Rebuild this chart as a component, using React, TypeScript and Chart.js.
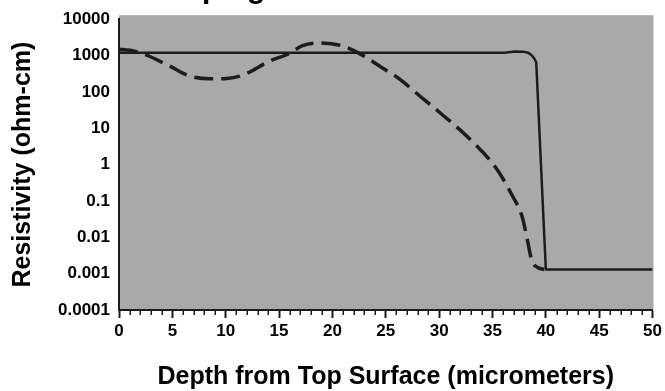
import React, { useEffect, useRef } from "react";
import { Chart, registerables } from "chart.js";

Chart.register(...registerables);

const TITLE_TEXT = "Doping Profile";
const X_TITLE = "Depth from Top Surface (micrometers)";
const Y_TITLE = "Resistivity (ohm-cm)";

const Y_TICK_VALUES = [0.0001, 0.001, 0.01, 0.1, 1, 10, 100, 1000, 10000];
const Y_TICK_LABELS = ["0.0001", "0.001", "0.01", "0.1", "1", "10", "100", "1000", "10000"];

const SOLID_X = [0, 36.1, 37.1, 37.9, 38.4, 38.7, 38.95, 39.1, 40.0, 50];
const SOLID_Y = [1200, 1200, 1300, 1280, 1180, 1000, 800, 650, 0.0013, 0.0013];

const DASH_X = [0, 1, 2.3, 4.75, 6.6, 8.5, 10.1, 11.6, 14.1, 16.0, 17.2, 18.8, 20.7, 22.5, 24.7, 26.3, 28.1, 30.0, 32.8, 35.3, 36.8, 37.8, 38.3, 38.7, 39.2, 39.85];
const DASH_Y = [1500, 1400, 1100, 515, 275, 230, 235, 290, 700, 1150, 1880, 2230, 1920, 1150, 455, 225, 81, 28, 5.3, 0.83, 0.15, 0.035, 0.0076, 0.0022, 0.0015, 0.0013];

const FONT = "'Liberation Sans', Arial, Helvetica, sans-serif";
const INK = "#1c1c1c";
const PLOT_BG = "#a9a9a9";

const bgPlugin = {
  id: "plotBg",
  beforeDraw(chart: any) {
    const { ctx, chartArea } = chart;
    ctx.save();
    ctx.fillStyle = PLOT_BG;
    ctx.fillRect(chartArea.left, chartArea.top - 4, chartArea.right - chartArea.left + 1, chartArea.bottom - chartArea.top + 4);
    ctx.restore();
  },
};

const extrasPlugin = {
  id: "extras",
  afterDraw(chart: any) {
    const { ctx, chartArea } = chart;
    const xs = chart.scales.x;
    ctx.save();
    ctx.strokeStyle = INK;
    ctx.lineWidth = 1.5;
    for (let v = 0; v <= 50; v++) {
      if (v % 5 === 0) continue;
      const px = Math.round(xs.getPixelForValue(v)) + 0.25;
      ctx.beginPath();
      ctx.moveTo(px, chartArea.bottom);
      ctx.lineTo(px, chartArea.bottom + 5);
      ctx.stroke();
    }
    ctx.fillStyle = "#000";
    ctx.font = `bold 25px ${FONT}`;
    ctx.textAlign = "center";
    ctx.textBaseline = "middle";
    ctx.fillText(X_TITLE, (chartArea.left + chartArea.right) / 2, 377);
    ctx.font = `bold 30px ${FONT}`;
    ctx.textAlign = "left";
    ctx.textBaseline = "alphabetic";
    ctx.fillText(TITLE_TEXT, 162, -2);
    ctx.restore();
  },
};

export default function App() {
  const ref = useRef<HTMLCanvasElement | null>(null);

  useEffect(() => {
    document.body.style.margin = "0";
    const canvas = ref.current;
    if (!canvas) return;
    const solid = SOLID_X.map((x, i) => ({ x, y: SOLID_Y[i] }));
    const dashed = DASH_X.map((x, i) => ({ x, y: DASH_Y[i] }));
    const chart = new Chart(canvas, {
      type: "line",
      data: {
        datasets: [
          {
            label: "solid",
            data: solid,
            borderColor: INK,
            borderWidth: 2.5,
            pointRadius: 0,
            tension: 0,
            fill: false,
          },
          {
            label: "dashed",
            data: dashed,
            borderColor: INK,
            borderWidth: 3.5,
            borderDash: [19, 8],
            pointRadius: 0,
            cubicInterpolationMode: "monotone",
            fill: false,
          },
        ],
      },
      plugins: [bgPlugin, extrasPlugin],
      options: {
        animation: false,
        responsive: false,
        devicePixelRatio: 1,
        layout: { padding: { top: 15, right: 11, left: 0, bottom: 0 } },
        plugins: { legend: { display: false }, tooltip: { enabled: false }, title: { display: false } },
        scales: {
          x: {
            type: "linear",
            min: 0,
            max: 50,
            afterFit: (s: any) => { s.height = 81; },
            border: { display: true, color: INK, width: 2 },
            grid: { display: true, drawOnChartArea: false, drawTicks: true, tickLength: 8, color: INK, tickColor: INK, tickWidth: 2 },
            ticks: { stepSize: 5, padding: 3, color: "#000", font: { family: FONT, size: 17, weight: "bold" }, maxRotation: 0, autoSkip: false },
          },
          y: {
            type: "logarithmic",
            min: 0.0001,
            max: 10000,
            afterFit: (s: any) => { s.width = 119; },
            afterBuildTicks: (s: any) => { s.ticks = Y_TICK_VALUES.map((v) => ({ value: v })); },
            border: { display: true, color: INK, width: 2 },
            grid: { display: true, drawOnChartArea: false, drawTicks: false },
            ticks: {
              padding: 9,
              color: "#000",
              font: { family: FONT, size: 17, weight: "bold" },
              callback: (v: any) => {
                const i = Y_TICK_VALUES.findIndex((t) => Math.abs(Math.log10(t) - Math.log10(Number(v))) < 1e-6);
                return i >= 0 ? Y_TICK_LABELS[i] : "";
              },
            },
            title: { display: true, text: Y_TITLE, color: "#000", font: { family: FONT, size: 25, weight: "bold" }, padding: { top: 8, bottom: 0 } },
          },
        },
      },
    });
    return () => chart.destroy();
  }, []);

  return <canvas ref={ref} width={665} height={391} style={{ display: "block" }} />;
}
